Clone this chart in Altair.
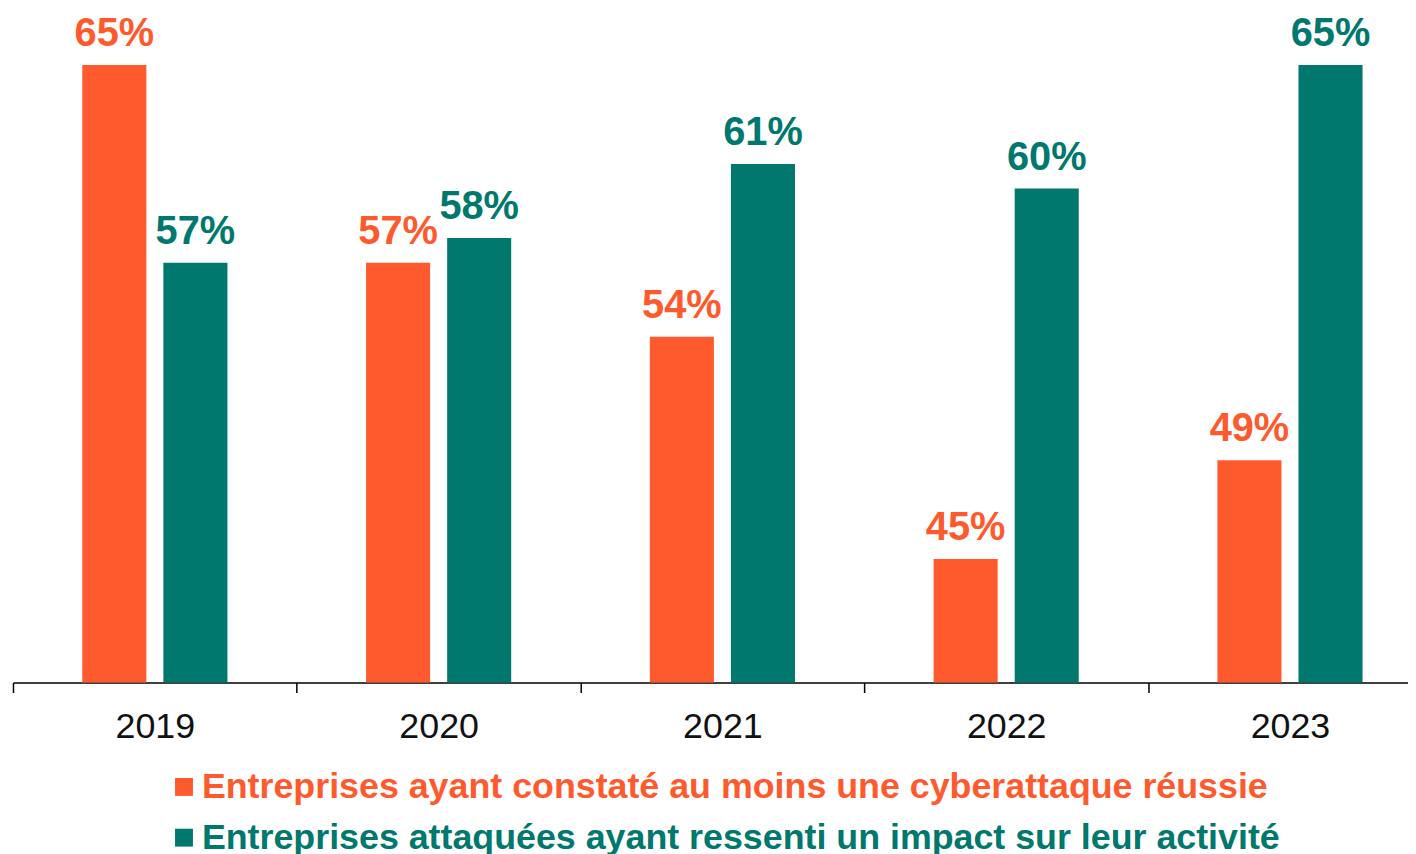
import altair as alt
import pandas as pd

years = ["2019", "2020", "2021", "2022", "2023"]
series = [
    "Entreprises ayant constaté au moins une cyberattaque réussie",
    "Entreprises attaquées ayant ressenti un impact sur leur activité",
]
reussie = [65, 57, 54, 45, 49]
impact = [57, 58, 61, 60, 65]
colors = ["#FF5A2D", "#00786E"]

rows = []
for yr, a, b in zip(years, reussie, impact):
    rows.append({"annee": yr, "serie": series[0], "valeur": a})
    rows.append({"annee": yr, "serie": series[1], "valeur": b})
df = pd.DataFrame(rows)
df["label"] = df["valeur"].astype(str) + "%"

FONT = "Liberation Sans"

x = alt.X(
    "annee:N",
    scale=alt.Scale(paddingInner=0, paddingOuter=0, range=[0, 1427]),
    axis=alt.Axis(
        title=None, labelAngle=0, tickBand="extent", tickSize=10, tickColor="#000",
        domainColor="#000", tickWidth=1.5, domainWidth=1.5, labelFont=FONT,
        labelFontSize=36, labelColor="#111", labelPadding=17, grid=False,
    ),
)
xo = alt.XOffset(
    "serie:N", sort=series,
    scale=alt.Scale(domain=series, paddingInner=0.21, paddingOuter=0.855),
)
y = alt.Y(
    "valeur:Q",
    scale=alt.Scale(domain=[40, 65], nice=False, zero=False),
    axis=None,
)
color = alt.Color(
    "serie:N",
    sort=series,
    scale=alt.Scale(domain=series, range=colors),
    legend=alt.Legend(
        title=None, orient="none", legendX=154, legendY=708,
        symbolType="square", symbolSize=324, symbolStrokeWidth=0, symbolOpacity=1,
        labelFont=FONT, labelFontSize=36, labelFontWeight="bold",
        labelColor=alt.ExprRef(
            f"datum.value == '{series[0]}' ? '{colors[0]}' : '{colors[1]}'"
        ),
        labelLimit=0, rowPadding=15, padding=0, labelOffset=0, direction="vertical",
    ),
)

base = alt.Chart(df)
bars = base.mark_bar(opacity=1).encode(x=x, xOffset=xo, y=y, y2=alt.datum(40), color=color)
texts = base.mark_text(
    font=FONT, fontSize=40, fontWeight="bold", baseline="alphabetic", dy=-19
).encode(
    x=x, xOffset=xo, y=y, text="label:N",
    color=alt.Color("serie:N", sort=series, scale=alt.Scale(domain=series, range=colors), legend=None),
)

chart = (
    alt.layer(bars, texts)
    .properties(
        width=1403, height=621,
        autosize=alt.AutoSizeParams(type="none"),
        padding={"left": 5, "top": 55, "right": 0, "bottom": 170},
    )
    .configure(font=FONT)
    .configure_view(strokeWidth=0, stroke="transparent")
)

chart.save("out.html", embed_options={"renderer": "svg", "actions": False})
